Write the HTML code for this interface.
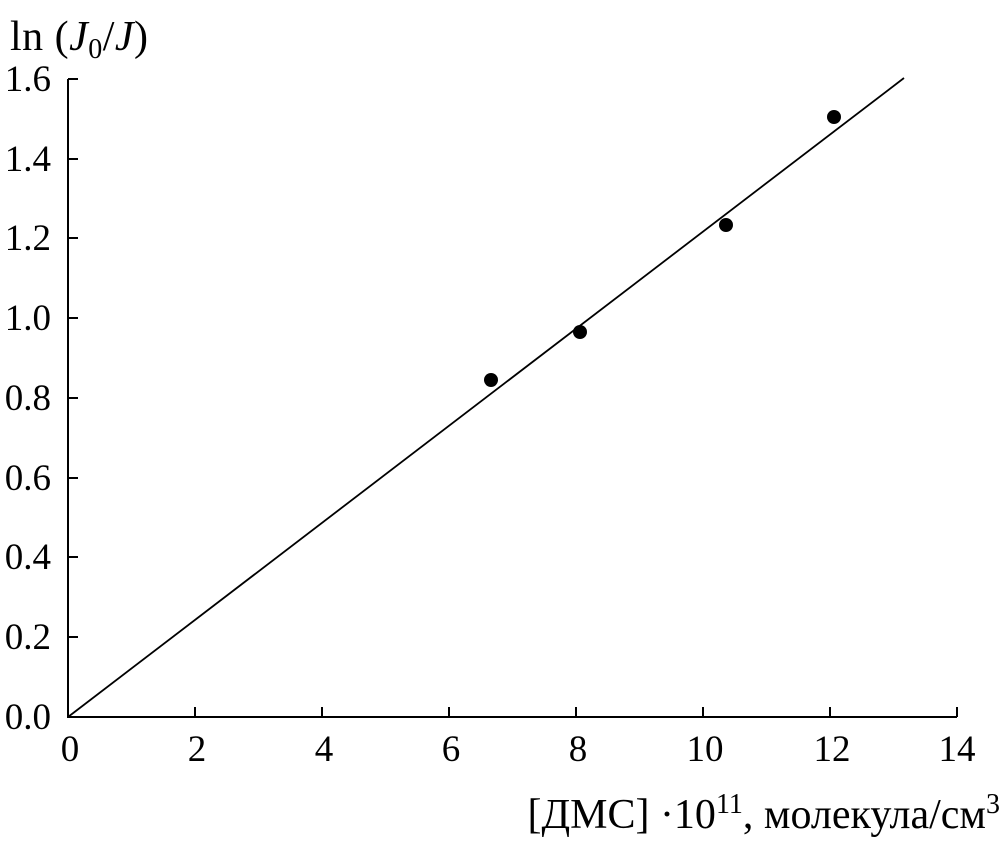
<!DOCTYPE html>
<html><head><meta charset="utf-8"><style>
html,body{margin:0;padding:0;background:#fff;}
svg text{font-family:"Liberation Serif",serif;fill:#000;}
</style></head><body>
<svg width="1004" height="845" viewBox="0 0 1004 845" xmlns="http://www.w3.org/2000/svg">
<g stroke="#000" stroke-width="2" fill="none">
<polyline points="68,79 68,717 957,717"/>
<line x1="68" y1="79" x2="78" y2="79"/>
<line x1="68" y1="159" x2="78" y2="159"/>
<line x1="68" y1="238" x2="78" y2="238"/>
<line x1="68" y1="318" x2="78" y2="318"/>
<line x1="68" y1="398" x2="78" y2="398"/>
<line x1="68" y1="478" x2="78" y2="478"/>
<line x1="68" y1="557" x2="78" y2="557"/>
<line x1="68" y1="637" x2="78" y2="637"/>
<line x1="195" y1="717" x2="195" y2="707"/>
<line x1="322" y1="717" x2="322" y2="707"/>
<line x1="449" y1="717" x2="449" y2="707"/>
<line x1="576" y1="717" x2="576" y2="707"/>
<line x1="703" y1="717" x2="703" y2="707"/>
<line x1="830" y1="717" x2="830" y2="707"/>
<line x1="957" y1="717" x2="957" y2="707"/>
<line x1="68" y1="717" x2="904" y2="78" stroke-width="1.8"/>
</g>
<g fill="#000">
<circle cx="491" cy="380" r="7"/>
<circle cx="580" cy="332" r="7"/>
<circle cx="726" cy="225" r="7"/>
<circle cx="834" cy="117" r="7"/>
</g>
<g font-size="37" text-anchor="end">
<text x="51" y="91">1.6</text>
<text x="51" y="171">1.4</text>
<text x="51" y="250">1.2</text>
<text x="51" y="330">1.0</text>
<text x="51" y="410">0.8</text>
<text x="51" y="490">0.6</text>
<text x="51" y="569">0.4</text>
<text x="51" y="649">0.2</text>
<text x="51" y="729">0.0</text>
</g>
<g font-size="37" text-anchor="middle">
<text x="70" y="761">0</text>
<text x="197" y="761">2</text>
<text x="324" y="761">4</text>
<text x="451" y="761">6</text>
<text x="578" y="761">8</text>
<text x="705" y="761">10</text>
<text x="832" y="761">12</text>
<text x="957" y="761">14</text>
</g>
<text x="10" y="50" font-size="42" textLength="138">ln (<tspan font-style="italic">J</tspan><tspan font-size="28" dy="8">0</tspan><tspan dy="-8">/</tspan><tspan font-style="italic">J</tspan>)</text>
<text x="1000" y="828" font-size="42" text-anchor="end">[ДМС] ·10<tspan font-size="28" dy="-15">11</tspan><tspan dy="15">, молекула/см</tspan><tspan font-size="28" dy="-15">3</tspan></text>
</svg>
</body></html>
